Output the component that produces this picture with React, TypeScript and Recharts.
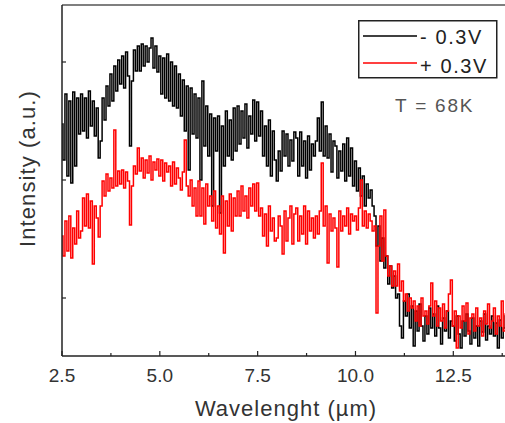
import React from 'react';
import { LineChart, Line, XAxis, YAxis, ReferenceLine, Legend } from 'recharts';

// Sampling grid of the spectrometer (µm)
const WAVELENGTH_START = 2.5;
const WAVELENGTH_STEP = 0.05;
const X_DOMAIN: [number, number] = [2.5, 14];
const X_MAJOR_TICKS = [2.5, 5.0, 7.5, 10.0, 12.5];
const X_MINOR_TICKS = [3.75, 6.25, 8.75, 11.25, 13.75];
const Y_DOMAIN: [number, number] = [0, 351];
const Y_TICKS = [58, 176, 294];

const SERIES_NAMES = ['- 0.3V', '+ 0.3V'];
const SERIES_COLORS = ['#000000', '#ff0000'];
const TEMPERATURE_LABEL = 'T = 68K';

// Intensity (a.u.) at -0.3 V
const NEG_BIAS = [
  232, 196, 262, 180, 255, 173, 264, 190, 258, 222,
  262, 225, 258, 218, 265, 230, 255, 220, 248, 198,
  215, 258, 236, 270, 250, 282, 255, 290, 265, 296,
  272, 300, 268, 304, 280, 210, 275, 306, 285, 310,
  285, 312, 290, 310, 294, 308, 318, 288, 310, 284,
  300, 262, 298, 258, 302, 255, 294, 250, 290, 248,
  282, 240, 276, 225, 270, 186, 268, 222, 262, 218,
  258, 176, 275, 210, 250, 200, 242, 150, 238, 205,
  240, 143, 230, 190, 245, 200, 236, 196, 248, 205,
  250, 212, 245, 218, 252, 208, 240, 222, 256, 215,
  254, 220, 245, 200, 230, 190, 236, 180, 225, 196,
  175, 205, 185, 225, 200, 222, 190, 216, 195, 224,
  218, 180, 224, 190, 215, 178, 220, 186, 212, 200,
  215, 238, 205, 254, 200, 230, 198, 222, 184, 215,
  210, 178, 205, 185, 212, 175, 218, 180, 208, 170,
  195, 165, 188, 160, 180, 150, 172, 158, 166, 150,
  140, 110, 130, 95, 118, 88, 100, 72, 90, 68,
  80, 58, 62, 30, 18, 55, 40, 62, 28, 50,
  10, 45, 25, 52, 30, 15, 40, 22, 48, 28,
  42, 20, 50, 28, 12, 38, 25, 45, 18, 35,
  30, 15, 40, 22, 8, 35, 20, 42, 25, 12,
  38, 18, 30, 10, 35, 24, 42, 16, 30, 22,
  40, 20, 33, 8, 36, 18, 28, 40, 14, 30,
  25,
];

// Intensity (a.u.) at +0.3 V
const POS_BIAS = [
  120, 100, 135, 105, 140, 98, 128, 112, 145, 118,
  125, 158, 130, 162, 128, 155, 92, 150, 138, 119,
  150, 175, 160, 182, 165, 178, 168, 226, 170, 185,
  172, 186, 168, 184, 175, 131, 170, 190, 182, 208,
  185, 198, 178, 196, 183, 200, 176, 194, 186, 197,
  180, 196, 175, 193, 184, 190, 170, 194, 172, 188,
  178, 166, 184, 216, 170, 160, 176, 150, 168, 140,
  175, 140, 168, 132, 172, 150, 160, 135, 165, 128,
  150, 122, 160, 103, 155, 130, 162, 125, 158, 140,
  165, 140, 170, 145, 160, 138, 168, 150, 172, 145,
  173, 140, 148, 120, 142, 110, 150, 125, 138, 115,
  118, 140, 130, 102, 145, 115, 138, 150, 112, 142,
  148, 115, 140, 122, 150, 112, 145, 125, 138, 118,
  140, 122, 145, 193, 130, 150, 93, 142, 125, 138,
  128, 89, 145, 125, 140, 130, 148, 122, 142, 135,
  140, 126, 148, 176, 130, 145, 128, 142, 135, 125,
  130, 43, 110, 140, 95, 146, 100, 80, 90, 70,
  85, 70, 92, 65, 75, 55, 62, 45, 58, 48,
  55, 35, 50, 30, 58, 40, 45, 32, 50, 73,
  40, 55, 30, 48, 35, 52, 28, 45, 62, 76,
  30, 45, 8, 40, 28, 50, 35, 53, 22, 38,
  42, 25, 48, 30, 38, 20, 45, 32, 52, 28,
  35, 48, 22, 40, 30, 55, 25, 42, 30, 45,
  35,
];

const data = NEG_BIAS.map((v, i) => ({
  wl: Number((WAVELENGTH_START + i * WAVELENGTH_STEP).toFixed(2)),
  neg: v,
  pos: POS_BIAS[i],
}));

const FONT = '"Liberation Sans", Arial, Helvetica, sans-serif';
const AXIS_COLOR = '#222';
const TEXT_COLOR = '#333';

const X_ALL_TICKS = [...X_MAJOR_TICKS, ...X_MINOR_TICKS].sort((a, b) => a - b);

const XTick = (props: any) => {
  const { x, y, payload } = props;
  const major = X_MAJOR_TICKS.includes(payload.value);
  return (
    <g>
      <line x1={x} x2={x} y1={y} y2={y - (major ? 5 : 3)} stroke={AXIS_COLOR} strokeWidth={1.2} />
      {major && (
        <text x={x} y={y + 26} textAnchor="middle" fill={TEXT_COLOR} fontSize={19} fontFamily={FONT}>
          {Number(payload.value).toFixed(1)}
        </text>
      )}
    </g>
  );
};

const YTick = (props: any) => {
  const { x, y } = props;
  return <line x1={x} x2={x + 4} y1={y} y2={y} stroke={AXIS_COLOR} strokeWidth={1.2} />;
};

const XTitle = (props: any) => {
  const vb = props.viewBox || { x: 62, y: 356, width: 450, height: 67 };
  return (
    <text
      x={vb.x + vb.width / 2 - 1}
      y={vb.y + 60}
      textAnchor="middle"
      fill={TEXT_COLOR}
      fontSize={22}
      fontFamily={FONT}
      style={{ letterSpacing: '1px' }}
    >
      Wavelenght (µm)
    </text>
  );
};

const YTitle = (props: any) => {
  const vb = props.viewBox || { x: 0, y: 5, width: 62, height: 351 };
  const cx = vb.x + 35;
  const cy = vb.y + vb.height / 2 - 12;
  return (
    <text
      x={cx}
      y={cy}
      transform={`rotate(-90 ${cx} ${cy})`}
      textAnchor="middle"
      fill={TEXT_COLOR}
      fontSize={22}
      fontFamily={FONT}
      style={{ letterSpacing: '1.1px' }}
    >
      Intensity (a.u.)
    </text>
  );
};

const LegendBox = () => (
  <svg width={140} height={100} style={{ display: 'block', overflow: 'visible' }}>
    <rect x={0.75} y={0.75} width={138} height={57} fill="#fff" stroke={AXIS_COLOR} strokeWidth={1.5} />
    {SERIES_NAMES.map((name, i) => (
      <g key={name}>
        <line x1={5} x2={59} y1={16 + i * 27} y2={16 + i * 27} stroke={SERIES_COLORS[i]} strokeWidth={1.5} />
        <text
          x={62}
          y={24 + i * 29}
          fill="#222"
          fontSize={20}
          fontFamily={FONT}
          style={{ letterSpacing: '1.6px' }}
        >
          {name}
        </text>
      </g>
    ))}
    <text x={37} y={92} fill="#555" fontSize={19} fontFamily={FONT} style={{ letterSpacing: '1.8px' }}>
      {TEMPERATURE_LABEL}
    </text>
  </svg>
);

export default function App() {
  return (
    <div
      style={{
        position: 'fixed',
        left: 0,
        top: 0,
        width: 505,
        height: 423,
        overflow: 'hidden',
        background: '#fff',
      }}
    >
      <LineChart width={512} height={423} data={data} margin={{ top: 5, right: 0, bottom: 0, left: 0 }}>
        <XAxis
          dataKey="wl"
          type="number"
          domain={X_DOMAIN}
          ticks={X_ALL_TICKS}
          interval={0}
          tickSize={0}
          tickMargin={0}
          tickLine={false}
          tick={<XTick />}
          height={67}
          axisLine={{ stroke: AXIS_COLOR, strokeWidth: 1.5 }}
          label={XTitle}
        />
        <YAxis
          type="number"
          domain={Y_DOMAIN}
          ticks={Y_TICKS}
          interval={0}
          tickSize={0}
          tickMargin={0}
          tickLine={false}
          tick={<YTick />}
          width={62}
          axisLine={{ stroke: AXIS_COLOR, strokeWidth: 1.5 }}
          label={YTitle}
        />
        <ReferenceLine y={Y_DOMAIN[1]} stroke="#555" strokeWidth={1.5} />
        <Legend
          layout="horizontal"
          verticalAlign="middle"
          align="center"
          content={() => <LegendBox />}
          wrapperStyle={{ position: 'absolute', left: 358, top: 20, width: 140, height: 100 }}
        />
        <Line
          type="step"
          dataKey="neg"
          name={SERIES_NAMES[0]}
          stroke={SERIES_COLORS[0]}
          strokeWidth={1.5}
          dot={false}
          isAnimationActive={false}
        />
        <Line
          type="step"
          dataKey="pos"
          name={SERIES_NAMES[1]}
          stroke={SERIES_COLORS[1]}
          strokeWidth={1.5}
          dot={false}
          isAnimationActive={false}
        />
      </LineChart>
    </div>
  );
}
